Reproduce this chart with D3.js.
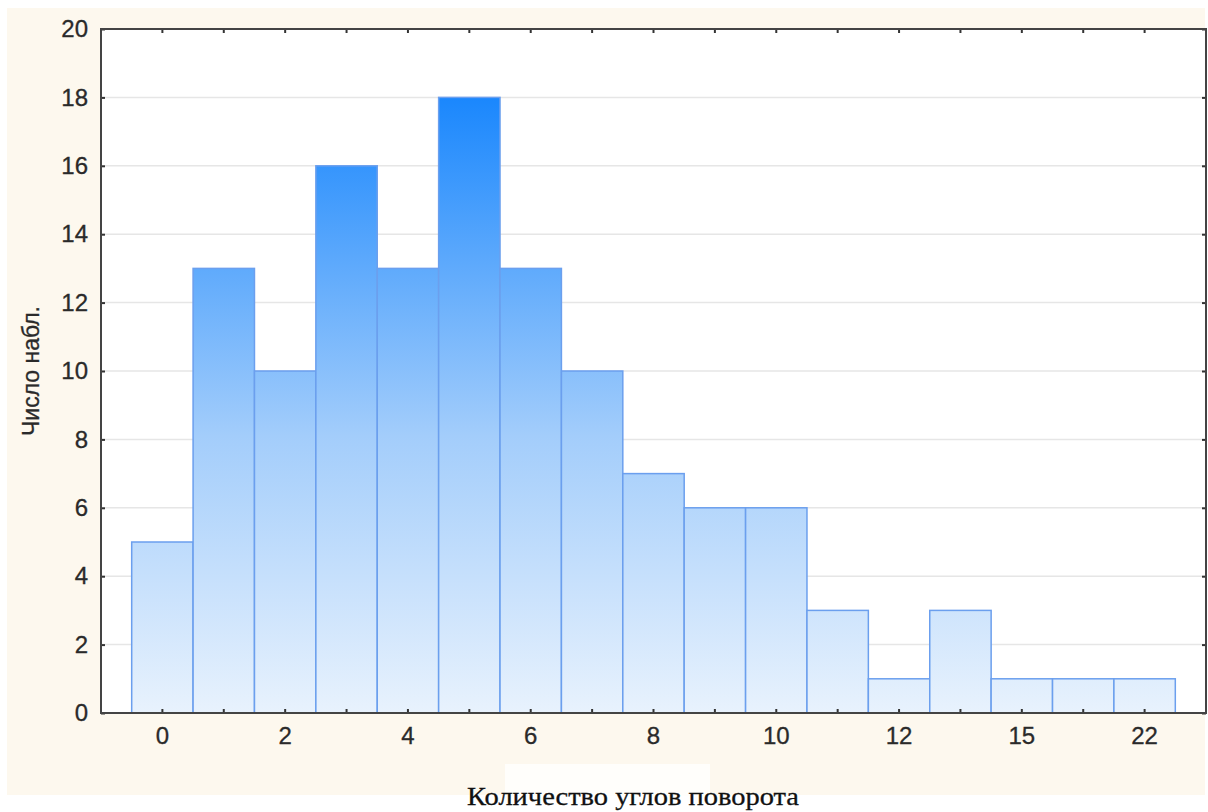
<!DOCTYPE html>
<html>
<head>
<meta charset="utf-8">
<script src="https://cdn.jsdelivr.net/npm/d3@7"></script>
<style>
  body { margin: 0; background: #fff; }
  svg { display: block; }
</style>
</head>
<body>
<div id="chart"></div>
<script>
// данные гистограммы (читаются с картинки)
const categories = ["0","1","2","3","4","5","6","7","8","9","10","11","12","13","15","18","22"];
const counts = [5, 13, 10, 16, 13, 18, 13, 10, 7, 6, 6, 3, 1, 3, 1, 1, 1];
const shownLabels = ["0","2","4","6","8","10","12","15","22"];
const yTicks = [0, 2, 4, 6, 8, 10, 12, 14, 16, 18, 20];

const W = 1208, H = 812;
const plot = { left: 101, right: 1206, top: 29, bottom: 713 };

const svg = d3.select("#chart").append("svg")
  .attr("width", W).attr("height", H);

// фон
svg.append("rect").attr("x", 7).attr("y", 8).attr("width", 1198).attr("height", 787)
  .attr("fill", "#fdf8ee");
svg.append("rect").attr("x", 505).attr("y", 764).attr("width", 205).attr("height", 32)
  .attr("fill", "#fffefb");
svg.append("rect").attr("x", plot.left).attr("y", plot.top)
  .attr("width", plot.right - plot.left).attr("height", plot.bottom - plot.top)
  .attr("fill", "#ffffff");

const x = d3.scaleBand().domain(categories)
  .range([plot.left, plot.right]).paddingInner(0).paddingOuter(0.5);
const y = d3.scaleLinear().domain([0, 20]).range([plot.bottom, plot.top]);

// градиент общий для всех столбцов
const defs = svg.append("defs");
const grad = defs.append("linearGradient").attr("id", "barGrad")
  .attr("gradientUnits", "userSpaceOnUse")
  .attr("x1", 0).attr("x2", 0).attr("y1", y(0)).attr("y2", y(18));
grad.append("stop").attr("offset", "0%").attr("stop-color", "#e8f2fd");
grad.append("stop").attr("offset", "45%").attr("stop-color", "#a3cdfb");
grad.append("stop").attr("offset", "100%").attr("stop-color", "#1a87fd");

// сетка
svg.append("g").selectAll("line").data(yTicks.slice(1, -1)).join("line")
  .attr("x1", plot.left).attr("x2", plot.right)
  .attr("y1", d => y(d)).attr("y2", d => y(d))
  .attr("stroke", "#e6e6e6").attr("stroke-width", 1.5);

// столбцы
svg.append("g").selectAll("rect").data(counts).join("rect")
  .attr("x", (d, i) => x(categories[i]))
  .attr("y", d => y(d))
  .attr("width", x.bandwidth())
  .attr("height", d => y(0) - y(d))
  .attr("fill", "url(#barGrad)")
  .attr("stroke", "#6b9fee")
  .attr("stroke-width", 1.5);

// оси (тики внутрь)
const axisStyle = g => {
  g.attr("font-size", null).attr("font-family", null);
  g.select(".domain").remove();
  g.selectAll(".tick line").attr("stroke", "#333").attr("stroke-width", 2);
  g.selectAll(".tick text").attr("fill", "#2a2a2a")
    .attr("stroke", "#2a2a2a").attr("stroke-width", 0.3)
    .attr("font-family", "'Liberation Sans', Arial, sans-serif").attr("font-size", 24);
};

svg.append("g").attr("transform", `translate(0,${plot.bottom})`)
  .call(d3.axisBottom(x).tickSizeInner(-4).tickSizeOuter(0).tickPadding(14)
    .tickFormat(d => shownLabels.includes(d) ? d : ""))
  .call(axisStyle);

svg.append("g").attr("transform", `translate(0,${plot.top})`)
  .call(d3.axisTop(x).tickSizeInner(-4).tickSizeOuter(0).tickFormat(""))
  .call(axisStyle);

svg.append("g").attr("transform", `translate(${plot.left},0)`)
  .call(d3.axisLeft(y).tickValues(yTicks).tickSizeInner(-4).tickSizeOuter(0).tickPadding(13))
  .call(axisStyle);

svg.append("g").attr("transform", `translate(${plot.right},0)`)
  .call(d3.axisRight(y).tickValues(yTicks).tickSizeInner(-4).tickSizeOuter(0).tickFormat(""))
  .call(axisStyle);

// рамка
svg.append("rect").attr("x", plot.left).attr("y", plot.top)
  .attr("width", plot.right - plot.left).attr("height", plot.bottom - plot.top)
  .attr("fill", "none").attr("stroke", "#444").attr("stroke-width", 2);

// подписи осей
svg.append("text")
  .attr("transform", `translate(39,${(plot.top + plot.bottom) / 2}) rotate(-90)`)
  .attr("text-anchor", "middle")
  .attr("font-family", "'Liberation Sans', Arial, sans-serif").attr("font-size", 23)
  .attr("fill", "#2a2a2a").attr("stroke", "#2a2a2a").attr("stroke-width", 0.3)
  .text("Число набл.");

svg.append("text")
  .attr("x", 633).attr("y", 805)
  .attr("text-anchor", "middle")
  .attr("font-family", "'Liberation Serif', 'Times New Roman', serif").attr("font-size", 26)
  .attr("textLength", 332).attr("lengthAdjust", "spacingAndGlyphs")
  .attr("fill", "#111").attr("stroke", "#111").attr("stroke-width", 0.3)
  .text("Количество углов поворота");
</script>
</body>
</html>
